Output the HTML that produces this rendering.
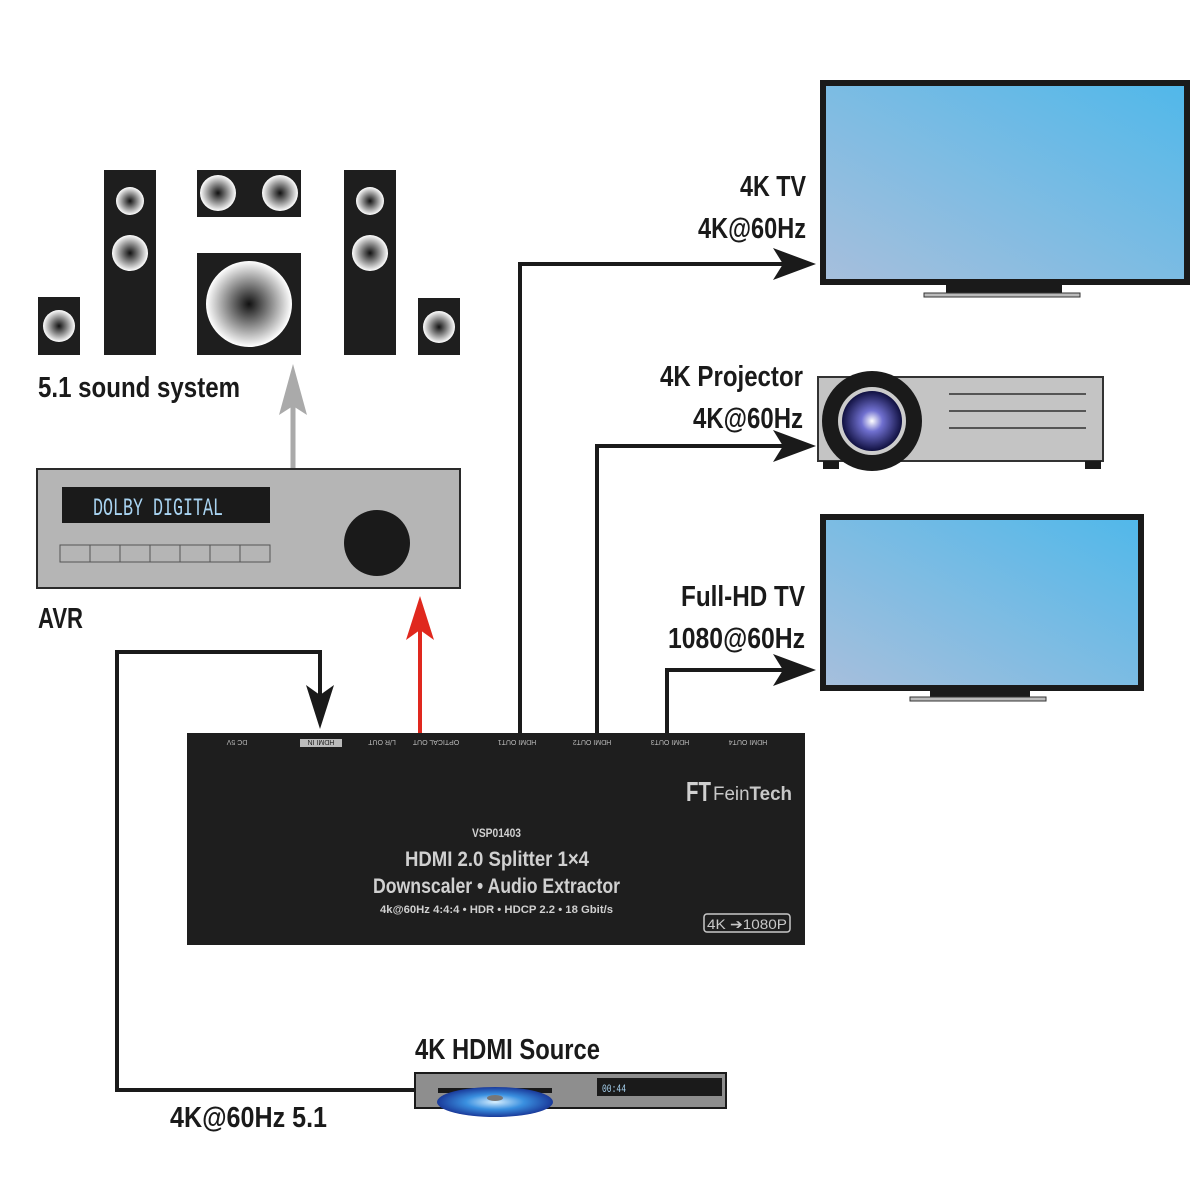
<!DOCTYPE html>
<html><head><meta charset="utf-8"><style>
html,body{margin:0;padding:0;background:#fff;}
svg{display:block}
.t{font-family:"Liberation Sans",sans-serif;font-weight:bold;fill:#1a1a1a}
.w{font-family:"Liberation Sans",sans-serif;font-weight:bold;fill:#d0d0d0}
</style></head><body>
<svg width="1200" height="1200" viewBox="0 0 1200 1200" xmlns="http://www.w3.org/2000/svg">
<defs>
<radialGradient id="cone"><stop offset="0" stop-color="#111"/><stop offset="1" stop-color="#fff"/></radialGradient>
<linearGradient id="scr" x1="0" y1="1" x2="1" y2="0"><stop offset="0" stop-color="#a7bfdc"/><stop offset="1" stop-color="#50b8ea"/></linearGradient>
<radialGradient id="lens"><stop offset="0" stop-color="#fff"/><stop offset="0.35" stop-color="#7070d0"/><stop offset="1" stop-color="#101040"/></radialGradient>
<radialGradient id="disc"><stop offset="0" stop-color="#d8f0ff"/><stop offset="0.5" stop-color="#3a90e0"/><stop offset="1" stop-color="#1a3a9a"/></radialGradient>
</defs>
<g fill="#1e1e1e">
<rect x="38" y="297" width="42" height="58"/>
<rect x="104" y="170" width="52" height="185"/>
<rect x="197" y="170" width="104" height="47"/>
<rect x="197" y="253" width="104" height="102"/>
<rect x="344" y="170" width="52" height="185"/>
<rect x="418" y="298" width="42" height="57"/>
</g>
<g fill="url(#cone)">
<circle cx="59" cy="326" r="16"/>
<circle cx="130" cy="201" r="14"/><circle cx="130" cy="253" r="18"/>
<circle cx="218" cy="193" r="18"/><circle cx="280" cy="193" r="18"/>
<circle cx="249" cy="304" r="43"/>
<circle cx="370" cy="201" r="14"/><circle cx="370" cy="253" r="18"/>
<circle cx="439" cy="327" r="16"/>
</g>
<text x="38" y="397" class="t" font-size="29" textLength="202" lengthAdjust="spacingAndGlyphs">5.1 sound system</text>
<line x1="293" y1="470" x2="293" y2="385" stroke="#aaa" stroke-width="5"/>
<path d="M293 364 L307 415 L293 406 L279 415 Z" fill="#aaa"/>
<rect x="37" y="469" width="423" height="119" fill="#b5b5b5" stroke="#2a2a2a" stroke-width="2"/>
<rect x="62" y="487" width="208" height="36" fill="#1a1a1a"/>
<text x="93" y="515" font-family="Liberation Mono,monospace" font-size="25" fill="#a9d4f2" textLength="130" lengthAdjust="spacingAndGlyphs">DOLBY DIGITAL</text>
<g fill="none" stroke="#555" stroke-width="1">
<rect x="60" y="545" width="210" height="17"/>
<path d="M90 545v17M120 545v17M150 545v17M180 545v17M210 545v17M240 545v17"/>
</g>
<circle cx="377" cy="543" r="33" fill="#1a1a1a"/>
<text x="38" y="628" class="t" font-size="29" textLength="45" lengthAdjust="spacingAndGlyphs">AVR</text>
<line x1="420" y1="733" x2="420" y2="615" stroke="#e0281e" stroke-width="4"/>
<path d="M420 596 L434 640 L420 630 L406 640 Z" fill="#e0281e"/>
<g fill="none" stroke="#1a1a1a" stroke-width="4">
<path d="M415 1090 H117 V652 H320 V715"/>
<path d="M520 733 V264 H795"/>
<path d="M597 733 V446 H795"/>
<path d="M667 733 V670 H795"/>
</g>
<path d="M320 729 L306 685 L320 695 L334 685 Z" fill="#1a1a1a"/>
<path d="M816 264 L773 248 L783 264 L773 280 Z" fill="#1a1a1a"/>
<path d="M816 446 L773 430 L783 446 L773 462 Z" fill="#1a1a1a"/>
<path d="M816 670 L773 654 L783 670 L773 686 Z" fill="#1a1a1a"/>
<rect x="187" y="733" width="618" height="212" fill="#1e1e1e"/>
<g font-family="Liberation Sans,sans-serif" font-size="7" fill="#bbb" text-anchor="middle">
<g transform="rotate(180 237 743)"><text x="237" y="746">DC 5V</text></g>
<rect x="300" y="739" width="42" height="8" fill="#bbb"/>
<g transform="rotate(180 321 743)"><text x="321" y="746" fill="#1e1e1e">HDMI IN</text></g>
<g transform="rotate(180 382 743)"><text x="382" y="746">L/R OUT</text></g>
<g transform="rotate(180 436 743)"><text x="436" y="746">OPTICAL OUT</text></g>
<g transform="rotate(180 517 743)"><text x="517" y="746">HDMI OUT1</text></g>
<g transform="rotate(180 592 743)"><text x="592" y="746">HDMI OUT2</text></g>
<g transform="rotate(180 670 743)"><text x="670" y="746">HDMI OUT3</text></g>
<g transform="rotate(180 748 743)"><text x="748" y="746">HDMI OUT4</text></g>
</g>
<text x="686" y="801" class="w" font-size="28" fill="#c8c8c8" textLength="25" lengthAdjust="spacingAndGlyphs">FT</text>
<text x="713" y="800" font-family="Liberation Sans,sans-serif" font-size="19" fill="#c8c8c8" textLength="79" lengthAdjust="spacingAndGlyphs">Fein<tspan font-weight="bold">Tech</tspan></text>
<text x="472" y="837" class="w" font-size="12" textLength="49" lengthAdjust="spacingAndGlyphs">VSP01403</text>
<text x="405" y="866" class="w" font-size="21" textLength="184" lengthAdjust="spacingAndGlyphs">HDMI 2.0 Splitter 1×4</text>
<text x="373" y="893" class="w" font-size="21" textLength="247" lengthAdjust="spacingAndGlyphs">Downscaler • Audio Extractor</text>
<text x="380" y="913" class="w" font-size="11" textLength="233" lengthAdjust="spacingAndGlyphs">4k@60Hz 4:4:4 • HDR • HDCP 2.2 • 18 Gbit/s</text>
<rect x="704" y="914" width="86" height="18" rx="3" fill="none" stroke="#c8c8c8" stroke-width="1.5"/>
<text x="707" y="929" font-family="Liberation Sans,sans-serif" font-size="14" fill="#c8c8c8" textLength="80" lengthAdjust="spacingAndGlyphs">4K ➔1080P</text>
<rect x="823" y="83" width="364" height="199" fill="url(#scr)" stroke="#1a1a1a" stroke-width="6"/>
<rect x="946" y="285" width="116" height="8" fill="#1a1a1a"/>
<rect x="924" y="293" width="156" height="4" fill="#bbb" stroke="#333" stroke-width="1"/>
<g font-size="29">
<text x="740" y="196" class="t" textLength="66" lengthAdjust="spacingAndGlyphs">4K TV</text>
<text x="698" y="238" class="t" textLength="108" lengthAdjust="spacingAndGlyphs">4K@60Hz</text>
<text x="660" y="386" class="t" textLength="143" lengthAdjust="spacingAndGlyphs">4K Projector</text>
<text x="693" y="428" class="t" textLength="110" lengthAdjust="spacingAndGlyphs">4K@60Hz</text>
<text x="681" y="606" class="t" textLength="124" lengthAdjust="spacingAndGlyphs">Full-HD TV</text>
<text x="668" y="648" class="t" textLength="137" lengthAdjust="spacingAndGlyphs">1080@60Hz</text>
</g>
<rect x="818" y="377" width="285" height="84" fill="#c4c4c4" stroke="#333" stroke-width="2"/>
<rect x="823" y="461" width="16" height="8" fill="#1a1a1a"/>
<rect x="1085" y="461" width="16" height="8" fill="#1a1a1a"/>
<g stroke="#555" stroke-width="2"><path d="M949 394H1086M949 411H1086M949 428H1086"/></g>
<circle cx="872" cy="421" r="50" fill="#1a1a1a"/>
<circle cx="872" cy="421" r="34" fill="#ccc"/>
<circle cx="872" cy="421" r="30" fill="url(#lens)"/>
<rect x="823" y="517" width="318" height="171" fill="url(#scr)" stroke="#1a1a1a" stroke-width="6"/>
<rect x="930" y="690" width="100" height="8" fill="#1a1a1a"/>
<rect x="910" y="697" width="136" height="4" fill="#bbb" stroke="#333" stroke-width="1"/>
<text x="415" y="1059" class="t" font-size="29" textLength="185" lengthAdjust="spacingAndGlyphs">4K HDMI Source</text>
<rect x="415" y="1073" width="311" height="35" fill="#8e8e8e" stroke="#1a1a1a" stroke-width="2"/>
<rect x="438" y="1088" width="114" height="5" fill="#1a1a1a"/>
<ellipse cx="495" cy="1102" rx="58" ry="15" fill="url(#disc)"/>
<ellipse cx="495" cy="1098" rx="8" ry="3" fill="#777"/>
<rect x="597" y="1078" width="125" height="18" fill="#1a1a1a"/>
<text x="602" y="1092" font-family="Liberation Mono,monospace" font-size="11" fill="#a9d4f2" textLength="24" lengthAdjust="spacingAndGlyphs">00:44</text>
<text x="170" y="1127" class="t" font-size="29" textLength="157" lengthAdjust="spacingAndGlyphs">4K@60Hz  5.1</text>
</svg>
</body></html>
